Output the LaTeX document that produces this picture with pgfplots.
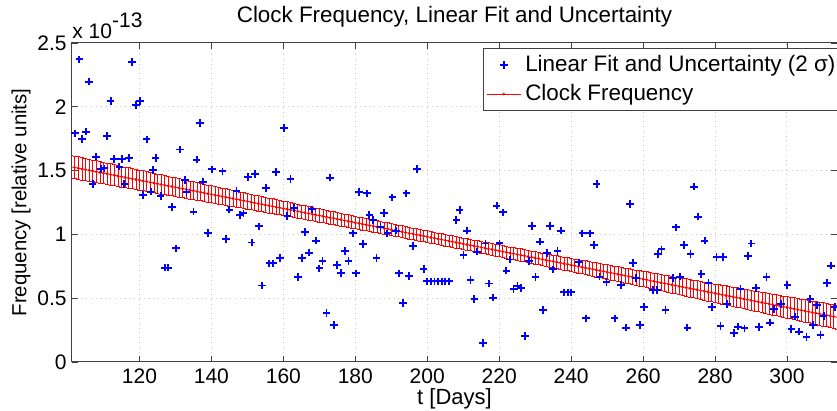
\documentclass[border=0pt]{standalone}
\usepackage{fontspec}
\setmainfont{Liberation Sans}
\usepackage{pgfplots}
\usepackage{pgfplotstable}
\pgfplotsset{compat=1.18}

% linear fit (centre) and its 2-sigma uncertainty, in units of 1e-13
\pgfplotstableread{
x y e
101 1.530 0.090
102 1.524 0.089
103 1.519 0.089
104 1.513 0.088
105 1.508 0.087
106 1.502 0.087
107 1.497 0.086
108 1.491 0.085
109 1.486 0.085
110 1.480 0.084
111 1.475 0.084
112 1.469 0.083
113 1.464 0.082
114 1.458 0.082
115 1.452 0.081
116 1.447 0.080
117 1.441 0.080
118 1.436 0.079
119 1.430 0.079
120 1.425 0.078
121 1.419 0.078
122 1.414 0.077
123 1.408 0.077
124 1.403 0.076
125 1.397 0.075
126 1.391 0.075
127 1.386 0.074
128 1.380 0.074
129 1.375 0.073
130 1.369 0.073
131 1.364 0.072
132 1.358 0.071
133 1.353 0.071
134 1.347 0.070
135 1.342 0.069
136 1.336 0.069
137 1.331 0.068
138 1.325 0.068
139 1.319 0.067
140 1.314 0.066
141 1.308 0.066
142 1.303 0.065
143 1.297 0.065
144 1.292 0.064
145 1.286 0.064
146 1.281 0.063
147 1.275 0.063
148 1.270 0.062
149 1.264 0.062
150 1.259 0.061
151 1.253 0.061
152 1.247 0.060
153 1.242 0.060
154 1.236 0.059
155 1.231 0.059
156 1.225 0.058
157 1.220 0.058
158 1.214 0.057
159 1.209 0.057
160 1.203 0.056
161 1.198 0.056
162 1.192 0.055
163 1.187 0.055
164 1.181 0.054
165 1.175 0.054
166 1.170 0.054
167 1.164 0.053
168 1.159 0.053
169 1.153 0.052
170 1.148 0.052
171 1.142 0.052
172 1.137 0.051
173 1.131 0.051
174 1.126 0.051
175 1.120 0.050
176 1.115 0.050
177 1.109 0.050
178 1.103 0.049
179 1.098 0.049
180 1.092 0.049
181 1.087 0.048
182 1.081 0.048
183 1.076 0.048
184 1.070 0.048
185 1.065 0.047
186 1.059 0.047
187 1.054 0.047
188 1.048 0.047
189 1.043 0.047
190 1.037 0.046
191 1.031 0.046
192 1.026 0.046
193 1.020 0.046
194 1.015 0.046
195 1.009 0.046
196 1.004 0.045
197 0.998 0.045
198 0.993 0.045
199 0.987 0.045
200 0.982 0.045
201 0.976 0.045
202 0.971 0.045
203 0.965 0.045
204 0.959 0.045
205 0.954 0.045
206 0.948 0.045
207 0.943 0.045
208 0.937 0.045
209 0.932 0.045
210 0.926 0.045
211 0.921 0.045
212 0.915 0.045
213 0.910 0.045
214 0.904 0.045
215 0.898 0.046
216 0.893 0.046
217 0.887 0.046
218 0.882 0.046
219 0.876 0.046
220 0.871 0.046
221 0.865 0.047
222 0.860 0.047
223 0.854 0.047
224 0.849 0.047
225 0.843 0.047
226 0.838 0.048
227 0.832 0.048
228 0.826 0.048
229 0.821 0.048
230 0.815 0.049
231 0.810 0.049
232 0.804 0.049
233 0.799 0.050
234 0.793 0.050
235 0.788 0.050
236 0.782 0.051
237 0.777 0.051
238 0.771 0.051
239 0.766 0.052
240 0.760 0.052
241 0.754 0.052
242 0.749 0.053
243 0.743 0.053
244 0.738 0.054
245 0.732 0.054
246 0.727 0.054
247 0.721 0.055
248 0.716 0.055
249 0.710 0.056
250 0.705 0.056
251 0.699 0.057
252 0.694 0.057
253 0.688 0.058
254 0.682 0.058
255 0.677 0.059
256 0.671 0.059
257 0.666 0.060
258 0.660 0.060
259 0.655 0.061
260 0.649 0.061
261 0.644 0.062
262 0.638 0.062
263 0.633 0.063
264 0.627 0.063
265 0.621 0.064
266 0.616 0.064
267 0.610 0.065
268 0.605 0.065
269 0.599 0.066
270 0.594 0.066
271 0.588 0.067
272 0.583 0.068
273 0.577 0.068
274 0.572 0.069
275 0.566 0.069
276 0.561 0.070
277 0.555 0.070
278 0.549 0.071
279 0.544 0.071
280 0.538 0.072
281 0.533 0.073
282 0.527 0.073
283 0.522 0.074
284 0.516 0.074
285 0.511 0.075
286 0.505 0.075
287 0.500 0.076
288 0.494 0.077
289 0.489 0.077
290 0.483 0.078
291 0.477 0.078
292 0.472 0.079
293 0.466 0.080
294 0.461 0.080
295 0.455 0.081
296 0.450 0.082
297 0.444 0.082
298 0.439 0.083
299 0.433 0.083
300 0.428 0.084
301 0.422 0.085
302 0.417 0.085
303 0.411 0.086
304 0.405 0.087
305 0.400 0.087
306 0.394 0.088
307 0.389 0.089
308 0.383 0.089
309 0.378 0.090
310 0.372 0.091
311 0.367 0.091
312 0.361 0.092
313 0.356 0.093
314 0.350 0.094
}\fitband

% measured clock frequency, in units of 1e-13
\pgfplotstableread{
x y
101.0 1.857
102.1 1.792
103.3 2.372
104.0 1.748
105.1 1.805
106.0 2.197
107.0 1.395
108.0 1.609
109.3 1.512
110.3 1.518
110.9 1.770
112.0 2.047
112.9 1.590
114.4 1.531
115.1 1.591
115.8 1.393
117.1 1.599
118.0 2.349
119.1 2.015
120.1 2.045
121.0 1.309
122.0 1.745
123.1 1.335
123.8 1.505
124.5 1.598
125.9 1.301
127.1 0.739
128.0 0.739
129.1 1.215
130.1 0.891
131.2 1.665
132.6 1.426
133.1 1.330
135.0 1.178
135.9 1.586
136.8 1.871
137.7 1.413
139.1 1.010
140.1 1.510
143.1 1.494
144.0 0.962
145.0 1.194
147.0 1.340
147.9 1.150
148.9 1.165
150.1 1.452
151.2 0.936
152.2 1.472
153.2 1.063
154.1 0.600
155.2 1.363
156.1 0.773
157.2 0.773
158.0 1.491
159.1 0.813
160.2 1.836
161.1 1.146
162.0 1.436
163.0 1.206
164.0 0.664
165.2 0.813
166.1 1.018
167.1 0.857
168.0 1.196
169.1 0.951
170.0 0.734
170.9 0.792
172.0 0.386
173.0 1.445
174.1 0.290
174.9 0.760
176.0 0.697
177.1 0.872
178.1 0.792
179.3 1.008
180.2 0.695
181.1 1.330
182.2 0.923
183.2 1.322
183.9 1.152
185.0 1.113
185.9 0.813
187.0 1.060
187.9 1.170
188.9 1.008
190.3 1.290
191.3 1.029
192.2 0.695
193.2 0.460
194.2 1.322
195.0 0.674
196.1 0.911
197.2 1.513
199.0 0.728
200.0 0.632
201.0 0.632
202.0 0.632
203.0 0.632
204.0 0.632
205.0 0.632
206.0 0.632
208.1 1.113
209.0 1.193
210.1 0.839
211.1 1.029
212.0 0.643
213.1 0.492
213.9 0.865
215.5 0.151
216.2 0.928
217.2 0.615
218.3 0.504
219.3 1.225
220.1 0.930
221.1 1.173
222.0 0.716
222.9 0.803
224.0 0.570
225.1 0.597
226.1 0.582
227.1 0.204
228.3 0.790
229.2 1.066
230.1 0.664
231.3 0.943
232.2 0.408
233.3 0.852
234.2 1.066
235.0 0.726
236.2 0.872
237.1 1.029
238.0 0.546
239.1 0.546
240.0 0.546
242.2 0.781
243.1 1.008
244.2 0.342
245.3 1.008
246.3 0.915
247.1 1.395
247.9 0.669
249.8 0.629
252.1 0.342
253.9 0.603
255.3 0.269
256.3 1.238
257.2 0.778
258.1 0.656
259.1 0.290
260.3 0.433
262.8 0.564
263.8 0.564
264.2 0.846
265.1 0.883
266.2 0.408
268.3 0.656
269.2 1.055
270.2 0.669
271.3 0.917
272.3 0.269
273.2 0.846
274.2 1.374
275.3 1.139
276.2 0.690
277.1 0.951
278.2 0.617
279.2 0.429
280.4 0.825
281.5 0.282
282.2 0.825
283.4 0.455
285.3 0.225
286.4 0.277
287.1 0.570
288.2 0.264
289.2 0.833
290.1 0.928
291.3 0.582
292.2 0.272
294.3 0.664
295.2 0.308
296.4 0.413
298.3 0.455
300.1 0.603
301.2 0.259
302.2 0.355
303.3 0.238
305.4 0.194
306.5 0.494
307.2 0.290
308.4 0.444
309.3 0.212
310.2 0.361
311.2 0.617
312.3 0.755
313.3 0.433
}\clockdata

\begin{document}
\fontsize{10}{12}\selectfont
\begin{tikzpicture}
\begin{axis}[
  scale only axis,
  width=382.5pt, height=159.5pt,
  xmin=101.25, xmax=313.9,
  ymin=0, ymax=2.5,
  xtick={120,140,160,180,200,220,240,260,280,300},
  ytick={0,0.5,1,1.5,2,2.5},
  /pgf/number format/assume math mode=true,
  tick label style={font=\fontsize{10.5}{12}\selectfont},
  xticklabel style={anchor=base, inner sep=0pt, yshift=-11pt},
  yticklabel style={anchor=east, inner sep=0pt, xshift=-2.5pt},
  tick align=inside,
  major tick length=3pt,
  tick style={black!75, line width=0.4pt},
  axis line style={black!75, line width=0.5pt},
  grid=major,
  major grid style={gray!45, dotted, line width=0.5pt},
  title={Clock Frequency, Linear Fit and Uncertainty},
  title style={at={(0.5,1)}, anchor=base, yshift=4.5pt, font=\fontsize{11.2}{13}\selectfont},
  xlabel={t [Days]},
  xlabel style={at={(axis description cs:0.5,0)}, anchor=base, inner sep=0pt, yshift=-21.3pt, font=\fontsize{11}{13}\selectfont},
  ylabel={Frequency [relative units]},
  ylabel style={at={(axis description cs:-0.0667,0.5)}, anchor=center, font=\fontsize{10.2}{12}\selectfont},
  legend style={at={(rel axis cs:0.537,0.984)}, anchor=north west,
    draw=black!75, line width=0.5pt, fill=white,
    font=\fontsize{11.2}{13}\selectfont, inner sep=1.5pt,
    row sep=0.8pt},
  legend cell align=left,
  reverse legend,
]
\addplot[red, line width=0.4pt, mark=*, mark size=0.45pt,
  mark options={draw=red, fill=red},
  error bars/.cd, y dir=both, y explicit,
  error mark=|,
  error bar style={red, line width=0.3pt},
  error mark options={red, mark size=1.0pt, line width=0.5pt}]
  table[x=x, y=y, y error=e]{\fitband};
\addlegendentry{Clock Frequency}
\addplot[only marks, color=blue, draw=blue, mark=+, mark size=1.9pt, line width=0.9pt,
  mark options={draw=blue, solid}]
  table[x=x, y=y]{\clockdata};
\addlegendentry{Linear Fit and Uncertainty (2 σ)}
\end{axis}
\node[anchor=base west, inner sep=0pt, font=\fontsize{10.5}{12}\selectfont] at ([yshift=2pt]current axis.north west)
  {x 10\raisebox{0.55em}{-13}};
\pgfresetboundingbox
\useasboundingbox ([shift={(-36pt,-24.5pt)}]current axis.south west)
  rectangle ([shift={(0pt,21.5pt)}]current axis.north east);
\end{tikzpicture}
\end{document}
